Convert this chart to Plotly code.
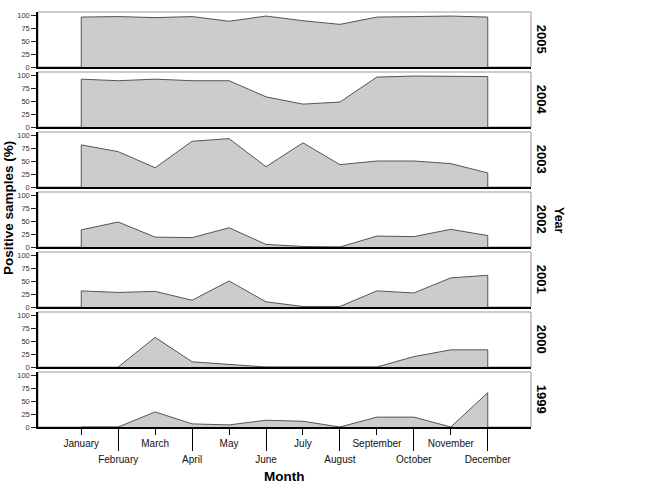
import plotly.graph_objects as go

months = ["January", "February", "March", "April", "May", "June", "July",
          "August", "September", "October", "November", "December"]
years = ["2005", "2004", "2003", "2002", "2001", "2000", "1999"]

v2005 = [96, 97, 95, 97, 88, 98, 89, 82, 96, 97, 98, 96]
v2004 = [92, 89, 92, 89, 89, 58, 44, 48, 96, 98, 98, 97]
v2003 = [81, 68, 37, 88, 93, 39, 85, 43, 50, 50, 45, 27]
v2002 = [33, 48, 19, 18, 37, 5, 1, 0, 21, 20, 34, 22]
v2001 = [31, 28, 30, 13, 50, 10, 1, 1, 31, 27, 56, 61]
v2000 = [None, 0, 57, 10, 5, 0, 0, 0, 0, 20, 33, 33]
v1999 = [0, 0, 29, 6, 4, 13, 11, 0, 19, 19, 0, 66]
series = [v2005, v2004, v2003, v2002, v2001, v2000, v1999]

y_ticks = [0, 25, 50, 75, 100]

W, H = 664, 496
ML, MR, MT, MB = 38, 133, 12, 69
PH = H - MT - MB  # 415
PW = W - ML - MR  # 493
panel_h, panel_step = 55, 60

fig = go.Figure()
n = len(years)
xr = [-1.17, len(months) - 1 + 1.17]
font = "Liberation Sans, Arial, sans-serif"

for k, (yr, vals) in enumerate(zip(years, series)):
    idx = k + 1
    xs = [i for i, v in enumerate(vals) if v is not None]
    ys = [v for v in vals if v is not None]
    px = [xs[0]] + xs + [xs[-1]]
    py = [0] + ys + [0]
    xa = "x" if idx == 1 else f"x{idx}"
    ya = "y" if idx == 1 else f"y{idx}"
    fig.add_trace(go.Scatter(x=px, y=py, mode="lines", fill="tozeroy",
                             fillcolor="#cccccc",
                             line=dict(color="#555555", width=1),
                             xaxis=xa, yaxis=ya, showlegend=False,
                             hoverinfo="skip"))
    top_px = MT + panel_step * k
    bot_px = top_px + panel_h
    d0 = (H - MB - bot_px) / PH
    d1 = (H - MB - top_px) / PH
    xkey = "xaxis" if idx == 1 else f"xaxis{idx}"
    ykey = "yaxis" if idx == 1 else f"yaxis{idx}"
    xdict = dict(domain=[0, 1], range=xr, anchor=ya, showgrid=False,
                 zeroline=False, showline=True, linecolor="black", linewidth=1.5,
                 fixedrange=True)
    if k == n - 1:
        xdict.update(tickmode="array", tickvals=list(range(0, 12, 2)),
                     ticktext=months[0::2], ticks="outside", ticklen=6,
                     tickcolor="black", tickwidth=1,
                     tickfont=dict(family=font, size=10, color="#111"))
    else:
        xdict.update(showticklabels=False, ticks="")
    fig.layout[xkey] = xdict
    fig.layout[ykey] = dict(domain=[d0, d1], range=[0, 105.8], anchor=xa,
                            tickmode="array", tickvals=y_ticks,
                            ticks="outside", ticklen=5, tickcolor="#222",
                            showgrid=False, zeroline=False, showline=True,
                            linecolor="black", linewidth=1.5,
                            tickfont=dict(family=font, size=7.5, color="#333"),
                            fixedrange=True)
    fig.add_shape(type="rect", xref=f"{xa} domain", yref=f"{ya} domain",
                  x0=0, x1=1, y0=0, y1=1, line=dict(color="#999999", width=1),
                  layer="below")
    fig.add_annotation(text=yr, xref="paper", yref=f"{ya} domain",
                       x=(541.7 - ML) / PW, y=0.5, xanchor="center",
                       yanchor="middle", showarrow=False, textangle=90,
                       font=dict(family=font, size=13, color="black",
                                 weight="bold"))

# second row of month labels (even months) with long ticks
fig.layout["xaxis8"] = dict(overlaying=f"x{n}", anchor=f"y{n}", side="bottom",
                            range=xr, tickmode="array",
                            tickvals=list(range(1, 12, 2)),
                            ticktext=months[1::2], ticks="outside", ticklen=23,
                            tickcolor="black", tickwidth=1, showgrid=False,
                            zeroline=False, showline=False,
                            tickfont=dict(family=font, size=10, color="#111"),
                            fixedrange=True)
fig.add_trace(go.Scatter(x=[None], y=[None], xaxis="x8", yaxis=f"y{n}",
                         showlegend=False, hoverinfo="skip"))

fig.add_annotation(text="Year", xref="paper", yref="paper",
                   x=(559 - ML) / PW, y=(H - MB - 220) / PH, xanchor="center",
                   yanchor="middle", showarrow=False, textangle=90,
                   font=dict(family=font, size=12.5, color="black", weight="bold"))
fig.add_annotation(text="Positive samples (%)", xref="paper", yref="paper",
                   x=(8 - ML) / PW, y=(H - MB - 208) / PH, xanchor="center",
                   yanchor="middle", showarrow=False, textangle=-90,
                   font=dict(family=font, size=13.5, color="black", weight="bold"))
fig.add_annotation(text="Month", xref="paper", yref="paper",
                   x=(284 - ML) / PW, y=(H - MB - 476) / PH, xanchor="center",
                   yanchor="middle", showarrow=False,
                   font=dict(family=font, size=13.5, color="black", weight="bold"))

fig.update_layout(width=W, height=H, margin=dict(l=ML, r=MR, t=MT, b=MB),
                  plot_bgcolor="white", paper_bgcolor="white",
                  showlegend=False)

fig.write_html("out.html")
